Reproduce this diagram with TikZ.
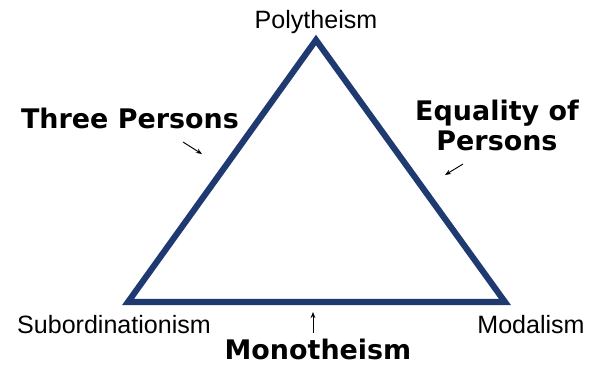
\documentclass[tikz,border=0pt]{standalone}
\usepackage{fontspec}
\setmainfont{Liberation Sans}
\newfontfamily\heavy{DejaVu Sans}
\usetikzlibrary{arrows.meta,positioning}
\definecolor{navy}{RGB}{30,58,112}

\begin{document}
\begin{tikzpicture}[
    x=0.75pt, y=-0.75pt,
    tri/.style={draw=navy, line width=4.6pt, line join=miter},
    vtx/.style={font=\fontsize{18.8}{22}\selectfont, inner sep=0pt},
    side/.style={font=\heavy\bfseries\fontsize{20.2}{22.5}\selectfont, align=center, inner sep=0pt},
    arr/.style={-{Stealth[length=4.5pt,width=3.5pt]}, line width=0.7pt}
]
\useasboundingbox (0,0) rectangle (590,365);
\coordinate (top) at (316,40);
\coordinate (bl) at (128,302);
\coordinate (br) at (505,302);
\draw[tri] (top) -- (br) -- (bl) -- cycle;

\node[vtx] (poly) at (316,22) {Polytheism};
\node[vtx] (sub) at (114,325) {Subordinationism};
\node[vtx] (mod) at (531,325) {Modalism};

\node[side] (three) at (130,118) {Three Persons};
\node[side] (equal) at (497,125) {Equality of\\Persons};
\node[side] (mono) at (318,349) {Monotheism};

\coordinate (a1) at (183,142);
\coordinate (a1e) at (202,154);
\coordinate (a2) at (463,164);
\coordinate (a2e) at (445,175);
\coordinate (a3) at (313,333);
\coordinate (a3e) at (313,312);
\draw[arr] (a1) -- (a1e);
\draw[arr] (a2) -- (a2e);
\draw[arr] (a3) -- (a3e);
\end{tikzpicture}
\end{document}
